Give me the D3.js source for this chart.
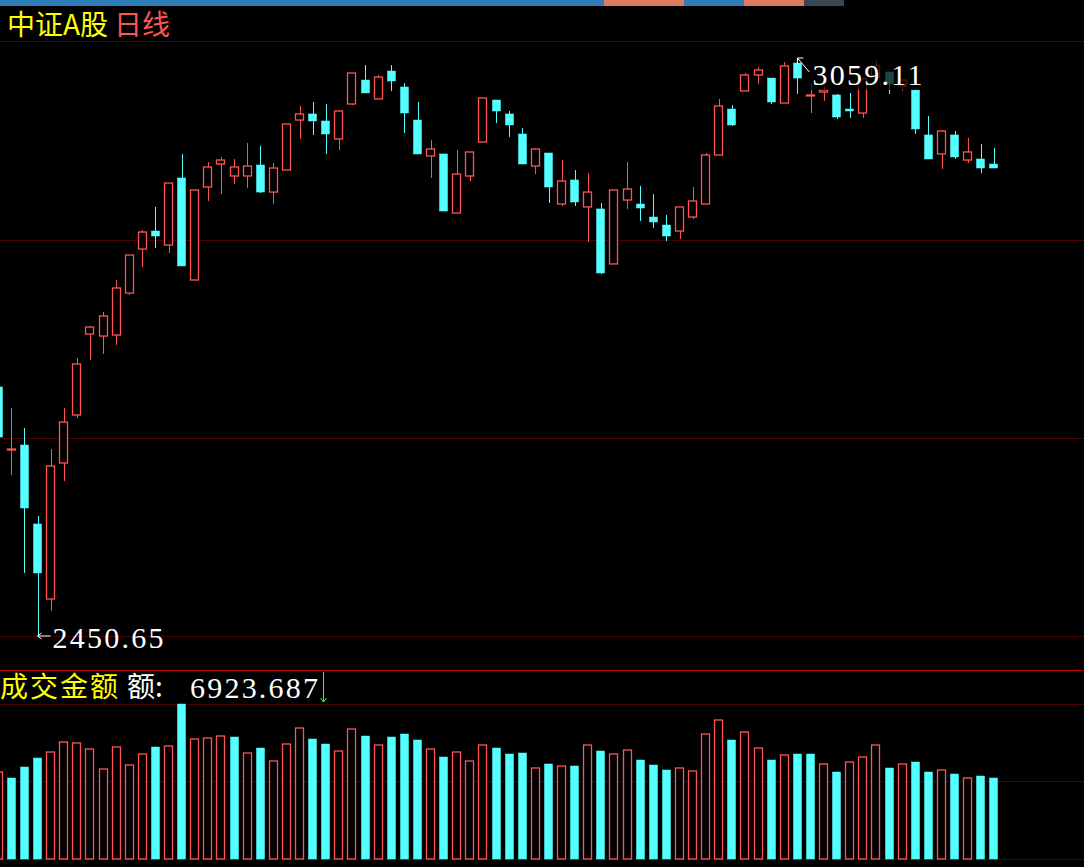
<!DOCTYPE html>
<html>
<head>
<meta charset="utf-8">
<script src="https://cdn.jsdelivr.net/npm/d3@7"></script>
<style>
  html, body { margin: 0; padding: 0; background: #000; overflow: hidden; }
  svg { display: block; }
</style>
</head>
<body>
<div id="chart"></div>
<script>
// daily candles (oldest first)
var openP  = [2712.8,2647.5,2651.7,2568.6,2489.6,2632.8,2683.3,2768.5,2766.4,2767.5,2811.7,2858.0,2877.0,2862.2,2932.8,2825.4,2923.3,2947.5,2934.9,2934.9,2946.5,2918.0,2941.2,2993.8,3000.2,2992.8,2973.9,3010.7,3035.9,3016.0,3045.4,3028.6,2993.8,2956.0,2958.1,2895.9,2934.9,2970.7,3014.9,3000.2,2979.1,2945.4,2959.1,2905.4,2930.7,2902.3,2900.2,2842.3,2909.6,2905.4,2891.7,2883.3,2877.0,2891.7,2905.4,2957.0,3005.4,3024.4,3041.2,3038.0,3011.7,3053.8,3020.2,3023.3,3020.2,3005.4,3001.2,3039.1,3044.4,3029.6,3025.4,2978.1,2958.1,2978.1,2951.7,2952.8,2947.5];
var highP  = [2714.9,2690.7,2669.6,2577.0,2647.5,2690.7,2743.3,2776.9,2791.7,2825.4,2851.7,2878.0,2902.3,2927.5,2958.1,2920.2,2949.6,2954.9,2952.8,2969.6,2966.5,2948.6,2989.6,3008.6,3012.8,3010.7,3004.4,3043.3,3051.7,3041.2,3051.7,3032.8,3012.8,2972.8,2958.1,2962.3,2960.2,3017.0,3014.9,3003.3,2985.4,2964.4,2959.1,2951.7,2941.2,2938.0,2906.5,2920.2,2949.6,2924.4,2915.9,2893.8,2902.3,2923.3,2959.1,3016.0,3009.6,3043.3,3049.6,3038.0,3054.9,3059.11,3032.8,3030.7,3021.2,3022.3,3038.0,3057.0,3044.4,3035.9,3025.4,2998.1,2983.3,2982.3,2974.9,2968.6,2964.4];
var lowP   = [2657.0,2620.1,2517.0,2450.65,2477.0,2613.8,2680.1,2741.2,2747.5,2757.0,2809.6,2839.1,2859.1,2853.8,2840.2,2825.4,2908.6,2915.9,2926.5,2922.3,2917.0,2905.4,2941.2,2973.9,2978.1,2958.1,2962.3,3009.6,3022.3,3016.0,3024.4,2980.2,2958.1,2932.8,2898.0,2895.9,2929.6,2970.7,2990.7,2976.0,2947.5,2937.0,2906.5,2903.3,2903.3,2865.4,2831.7,2842.3,2900.2,2887.5,2880.2,2866.4,2868.5,2889.6,2905.4,2957.0,2987.5,3024.4,3031.7,3010.7,3011.7,3021.2,3001.2,3013.9,2994.9,2996.0,2996.0,3039.1,3021.2,3024.4,2979.1,2952.8,2942.3,2952.8,2948.6,2938.0,2943.3];
var closeP = [2660.1,2647.5,2585.4,2517.0,2629.6,2675.9,2737.0,2775.9,2787.5,2817.0,2851.7,2875.9,2871.7,2927.5,2840.2,2920.2,2944.4,2951.7,2944.4,2945.4,2918.0,2943.3,2989.6,3000.2,2992.8,2979.1,3003.3,3043.3,3022.3,3039.1,3034.9,3001.2,2958.1,2963.3,2898.0,2937.0,2960.2,3017.0,3003.3,2988.6,2947.5,2963.3,2923.3,2929.6,2907.5,2918.0,2832.8,2920.2,2921.2,2901.2,2886.5,2871.7,2902.3,2908.6,2957.0,3008.6,2988.6,3041.2,3046.5,3012.8,3050.7,3038.0,3020.2,3025.4,2997.0,3003.3,3037.0,3050.7,3031.7,3035.9,2984.4,2952.8,2982.3,2954.9,2960.2,2943.3,2943.3];
// turnover (成交金额) and its up/down colour flag (1 = red)
var amount = [7437,6924,7864,8633,9146,10001,9916,9403,7693,9574,8035,8975,9574,9659,13249,10258,10343,10514,10429,9061,9488,8377,9830,11198,10258,9830,9232,11112,10514,9745,10429,10685,10172,9403,8719,9146,8377,9745,9488,8975,9061,7779,8121,7950,7950,9745,9232,8975,9317,8463,8035,7608,7779,7522,10685,11882,10172,10856,9488,8463,8890,8975,8975,8121,7437,8292,8719,9745,7779,8121,8292,7437,7608,7266,6924,7095,6923.687];
var amountUp = [1,0,0,0,1,1,1,1,1,1,1,1,0,1,0,1,1,1,0,1,0,1,1,1,0,0,1,1,0,1,0,0,0,1,0,1,1,1,0,0,0,1,0,1,0,1,0,1,1,0,0,0,1,1,1,1,0,1,1,0,1,0,0,1,0,1,1,1,0,1,0,0,1,0,1,0,0];

var titleA = "中证A股", titleB = "日线";
var amountLabel = "成交金额", amountTxt = "额: 6923.687";
var maxLabel = "3059.11", minLabel = "2450.65";

var W = 1084, H = 867;
var RED = "#ff5454", CYAN = "#54ffff", GRID = "#4a0000";

var svg = d3.select("#chart").append("svg")
    .attr("width", W).attr("height", H)
    .style("background", "#000");

var idx = d3.range(closeP.length);

var x = d3.scaleBand()
    .domain(idx)
    .range([-8.25, 1000.45])
    .paddingInner(0.31)
    .paddingOuter(0.155);

var y = d3.scaleLinear()
    .domain([2450.65, 3059.11])
    .range([636, 58]);

var yVol = d3.scaleLinear()
    .domain([0, 13250])
    .range([859, 704]);

// top strip
var strip = [[0, 604, "#2e7fb8"], [604, 684, "#e07b60"], [684, 744, "#2e7fb8"], [744, 804, "#e07b60"], [804, 844, "#3b4652"]];
svg.selectAll("rect.strip").data(strip).enter().append("rect")
    .attr("x", function(d) { return d[0]; })
    .attr("width", function(d) { return d[1] - d[0]; })
    .attr("y", 0).attr("height", 6)
    .attr("fill", function(d) { return d[2]; });

// grid lines
[41, 240, 438, 636, 704, 781, 859].forEach(function(g) {
  svg.append("line").attr("x1", 0).attr("x2", W).attr("y1", g + 0.5).attr("y2", g + 0.5)
      .attr("stroke", GRID).attr("stroke-width", 1);
});
svg.append("line").attr("x1", 0).attr("x2", W).attr("y1", 670.5).attr("y2", 670.5)
    .attr("stroke", "#c00000").attr("stroke-width", 1);

function cx(i) { return x(i) + x.bandwidth() / 2; }
function up(i) { return closeP[i] >= openP[i]; }

var candles = svg.append("g").attr("class", "candles");

candles.selectAll("line.wick").data(idx).enter().append("line")
    .attr("x1", function(i) { return Math.round(cx(i)) + 0.5; })
    .attr("x2", function(i) { return Math.round(cx(i)) + 0.5; })
    .attr("y1", function(i) { return y(highP[i]); })
    .attr("y2", function(i) { return y(lowP[i]); })
    .attr("stroke", function(i) { return up(i) ? RED : CYAN; });

candles.selectAll("rect.body").data(idx).enter().append("rect")
    .attr("x", function(i) { return Math.round(x(i)) + 0.5; })
    .attr("width", Math.round(x.bandwidth()) - 1)
    .attr("y", function(i) { return y(Math.max(openP[i], closeP[i])); })
    .attr("height", function(i) { return Math.max(1, Math.abs(y(openP[i]) - y(closeP[i]))); })
    .attr("fill", function(i) { return up(i) ? "#000" : CYAN; })
    .attr("stroke", function(i) { return up(i) ? RED : CYAN; })
    .attr("stroke-width", function(i) { return up(i) ? 1.3 : 0.5; });

// amount bars
svg.append("g").selectAll("rect").data(idx).enter().append("rect")
    .attr("x", function(i) { return Math.round(x(i)) + 0.5; })
    .attr("width", Math.round(x.bandwidth()) - 1)
    .attr("y", function(i) { return yVol(amount[i]); })
    .attr("height", function(i) { return yVol(0) - yVol(amount[i]); })
    .attr("fill", function(i) { return amountUp[i] ? "#000" : CYAN; })
    .attr("stroke", function(i) { return amountUp[i] ? RED : CYAN; })
    .attr("stroke-width", function(i) { return amountUp[i] ? 1.3 : 0.5; });

// title
var t = svg.append("text").attr("x", 7).attr("y", 35)
    .style("font-family", "'Noto Sans CJK SC'").style("font-size", "28px");
t.append("tspan").attr("fill", "#ffff00").text(titleA);
t.append("tspan").attr("fill", RED).attr("dx", 6).text(titleB);

// max marker
var hiI = highP.indexOf(d3.max(highP));
var hx = cx(hiI), hy = y(highP[hiI]);
svg.append("rect").attr("x", 810).attr("y", 60).attr("width", 114).attr("height", 30)
    .attr("fill", "#000").attr("opacity", 0.72);
svg.append("path")
    .attr("d", "M" + (hx + 12) + "," + (hy + 14) + "L" + hx + "," + hy + "M" + hx + "," + hy + "l0,6M" + hx + "," + hy + "l6,0")
    .attr("stroke", "#fff").attr("fill", "none");
svg.append("text").attr("x", hx + 15).attr("y", hy + 27)
    .attr("textLength", 110).attr("lengthAdjust", "spacing")
    .attr("fill", "#fff").style("font-family", "'Liberation Serif'").style("font-size", "30px")
    .text(maxLabel);

// min marker
var loI = lowP.indexOf(d3.min(lowP));
var lx = cx(loI), ly = y(lowP[loI]);
svg.append("path")
    .attr("d", "M" + lx + "," + ly + "L" + (lx + 13) + "," + ly + "M" + lx + "," + ly + "l4,-3M" + lx + "," + ly + "l4,3")
    .attr("stroke", "#fff").attr("fill", "none");
svg.append("text").attr("x", lx + 15).attr("y", ly + 12)
    .attr("textLength", 111).attr("lengthAdjust", "spacing")
    .attr("fill", "#fff").style("font-family", "'Liberation Serif'").style("font-size", "30px")
    .text(minLabel);

// amount header
svg.append("text").attr("x", 0).attr("y", 697)
    .attr("textLength", 118).attr("lengthAdjust", "spacing")
    .attr("fill", "#ffff00").style("font-family", "'Noto Sans CJK SC'").style("font-size", "28px")
    .text(amountLabel);
svg.append("text").attr("x", 127).attr("y", 697)
    .attr("fill", "#fff").style("font-family", "'Noto Sans CJK SC'").style("font-size", "28px")
    .text(amountTxt.slice(0, 2));
svg.append("text").attr("x", 190).attr("y", 698)
    .attr("textLength", 128).attr("lengthAdjust", "spacing")
    .attr("fill", "#fff").style("font-family", "'Liberation Serif'").style("font-size", "30px")
    .text(amountTxt.slice(3));
svg.append("path").attr("d", "M323.5,672V702M320.5,698L323.5,702L326.5,698")
    .attr("stroke", "#33ff33").attr("fill", "none");
</script>
</body>
</html>
